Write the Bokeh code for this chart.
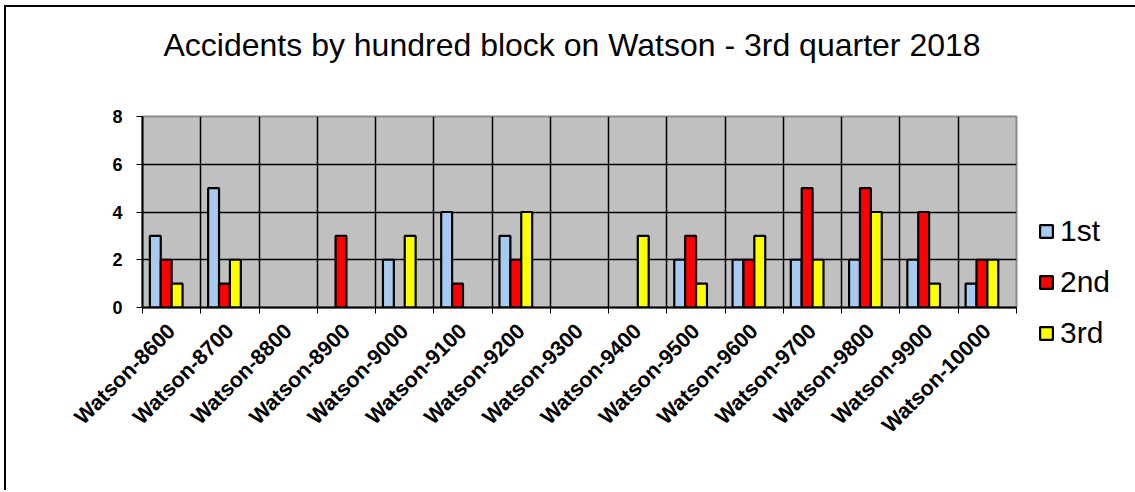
import math
from bokeh.plotting import figure
from bokeh.models import (ColumnDataSource, Range1d, FixedTicker, Legend, LegendItem,
                          Title, Grid)
from bokeh.embed import file_html
from bokeh.resources import INLINE

categories = ["Watson-8600", "Watson-8700", "Watson-8800", "Watson-8900", "Watson-9000",
              "Watson-9100", "Watson-9200", "Watson-9300", "Watson-9400", "Watson-9500",
              "Watson-9600", "Watson-9700", "Watson-9800", "Watson-9900", "Watson-10000"]
series_names = ["1st", "2nd", "3rd"]
first = [3, 5, 0, 0, 2, 4, 3, 0, 0, 2, 2, 2, 2, 2, 1]
second = [2, 1, 0, 3, 0, 1, 2, 0, 0, 3, 2, 5, 5, 4, 2]
third = [1, 2, 0, 0, 3, 0, 4, 0, 3, 1, 3, 2, 4, 1, 2]
colors = ["#A6CAF0", "#FF0000", "#FFFF00"]
y_ticks = [0, 2, 4, 6, 8]

FONT = "Liberation Sans"
n = len(categories)
centers = [i + 0.5 for i in range(n)]

p = figure(output_backend="svg", toolbar_location=None,
           x_range=Range1d(0, n), y_range=Range1d(0, 8),
           frame_width=874, frame_height=191,
           min_border_left=136, min_border_right=112, min_border_top=0, min_border_bottom=183,
           background_fill_color="#C0C0C0", border_fill_color="white")
p.styles = {"border-left": "2px solid black", "border-top": "2px solid black",
            "margin-left": "4px", "margin-top": "5px"}
p.title = None

spacer = Title(text=" ", text_font_size="2px", standoff=33)
p.add_layout(spacer, "above")
t = Title(text="Accidents by hundred block on Watson - 3rd quarter 2018", align="left",
          offset=21, text_font=FONT, text_font_size="32px", text_font_style="normal",
          text_color="#000000", standoff=34)
p.add_layout(t, "above")

p.outline_line_color = "#8C8C8C"
p.outline_line_width = 2

offsets = [-0.28, -0.093, 0.094]
bar_w = 0.187
renderers = []
for vals, off, col in zip([first, second, third], offsets, colors):
    xs = [c + off for c, v in zip(centers, vals) if v > 0]
    tops = [v for v in vals if v > 0]
    src = ColumnDataSource(dict(x=xs, top=tops))
    r = p.vbar(x="x", top="top", width=bar_w, bottom=0, source=src,
               fill_color=col, line_color="black", line_width=2.2)
    renderers.append(r)

# axes
xa = p.xaxis[0]
xa.ticker = FixedTicker(ticks=centers, minor_ticks=list(range(n + 1)))
xa.major_label_overrides = {c: lab for c, lab in zip(centers, categories)}
xa.major_label_orientation = math.pi / 4
xa.major_label_text_font = FONT
xa.major_label_text_font_style = "bold"
xa.major_label_text_font_size = "21.5px"
xa.major_label_text_color = "black"
xa.major_label_standoff = 14
xa.major_tick_line_color = None
xa.minor_tick_line_color = "black"
xa.minor_tick_out = 6
xa.minor_tick_in = 0
xa.axis_line_color = "black"
xa.axis_line_width = 2

ya = p.yaxis[0]
ya.ticker = FixedTicker(ticks=y_ticks)
ya.major_label_text_font = FONT
ya.major_label_text_font_style = "bold"
ya.major_label_text_font_size = "18px"
ya.major_label_text_color = "black"
ya.major_tick_out = 6
ya.major_tick_in = 0
ya.major_tick_line_color = "black"
ya.minor_tick_line_color = None
ya.axis_line_color = "black"
ya.axis_line_width = 2
ya.major_label_standoff = 14

p.xgrid.grid_line_color = None
p.ygrid.grid_line_color = "black"
p.ygrid.grid_line_width = 1.5
p.ygrid.ticker = FixedTicker(ticks=y_ticks[1:-1])
vgrid = Grid(dimension=0, ticker=FixedTicker(ticks=list(range(1, n))),
             grid_line_color="black", grid_line_width=1.5)
p.add_layout(vgrid)

items = [LegendItem(label=nm, renderers=[r]) for nm, r in zip(series_names, renderers)]
legend = Legend(items=items, location=(22, -43), orientation="vertical",
                label_text_font=FONT, label_text_font_size="30px", label_text_color="black",
                glyph_width=16, glyph_height=16, label_height=34, spacing=17,
                label_standoff=6, padding=0, margin=0,
                background_fill_alpha=0, border_line_color=None)
p.add_layout(legend, "right")

open("out.html", "w").write(file_html(p, INLINE))
